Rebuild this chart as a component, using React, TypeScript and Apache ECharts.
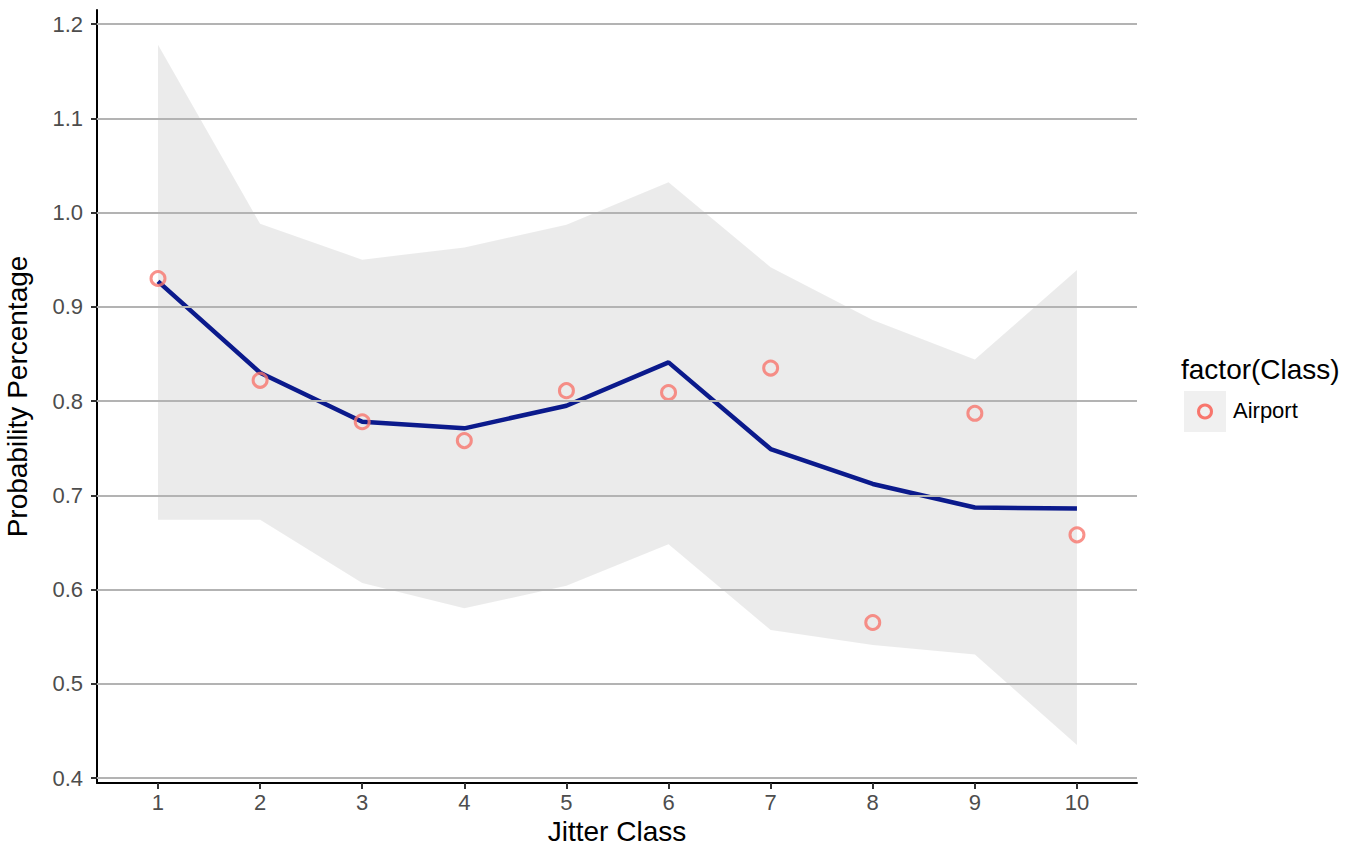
import React, { useEffect, useRef } from "react";
import * as echarts from "echarts";

const jitterClass = [1, 2, 3, 4, 5, 6, 7, 8, 9, 10];
const observed = [0.930, 0.822, 0.778, 0.758, 0.811, 0.809, 0.835, 0.565, 0.787, 0.658];
const fitted = [0.927, 0.830, 0.778, 0.771, 0.795, 0.841, 0.749, 0.712, 0.687, 0.686];
const upper = [1.178, 0.988, 0.950, 0.963, 0.987, 1.032, 0.942, 0.886, 0.844, 0.939];
const lower = [0.674, 0.674, 0.607, 0.580, 0.604, 0.648, 0.557, 0.541, 0.531, 0.435];
const yTicks = [0.4, 0.5, 0.6, 0.7, 0.8, 0.9, 1.0, 1.1, 1.2];
const xTicks = [1, 2, 3, 4, 5, 6, 7, 8, 9, 10];

const FONT = "'Liberation Sans', Arial, Helvetica, sans-serif";

export default function App() {
  const ref = useRef<HTMLDivElement>(null);
  useEffect(() => {
    if (!ref.current) return;
    document.body.style.margin = "0";
    const chart = echarts.init(ref.current, undefined, { renderer: "svg" });
    const ribbonData = jitterClass.map((x, i) => [x, lower[i], upper[i]]);
    chart.setOption({
      animation: false,
      backgroundColor: "#ffffff",
      grid: { left: 97, right: 226, top: 10, bottom: 72, outerBoundsMode: "none", containLabel: false },
      xAxis: {
        type: "value",
        min: 0.4026,
        max: 10.588,
        name: "Jitter Class",
        nameLocation: "middle",
        nameGap: 32,
        nameTextStyle: { color: "#000", fontSize: 28, fontFamily: FONT },
        axisLine: { show: true, onZero: false, lineStyle: { color: "#000", width: 2 } },
        axisTick: { show: true, length: 6, customValues: xTicks, lineStyle: { color: "#333", width: 2 } },
        axisLabel: { customValues: xTicks, color: "#4d4d4d", fontSize: 22, fontFamily: FONT, margin: 8 },
        splitLine: { show: false },
      },
      yAxis: {
        type: "value",
        min: 0.3947,
        max: 1.2149,
        name: "Probability Percentage",
        nameLocation: "middle",
        nameGap: 66,
        nameRotate: 90,
        nameTextStyle: { color: "#000", fontSize: 28, fontFamily: FONT },
        axisLine: { show: true, onZero: false, lineStyle: { color: "#000", width: 2 } },
        axisTick: { show: true, length: 6, customValues: yTicks, lineStyle: { color: "#333", width: 2 } },
        axisLabel: {
          customValues: yTicks,
          color: "#4d4d4d",
          fontSize: 22,
          fontFamily: FONT,
          margin: 14,
          formatter: (v: number) => v.toFixed(1),
        },
        splitLine: { show: false },
      },
      series: [
        {
          type: "line",
          data: [],
          silent: true,
          markLine: {
            silent: true,
            symbol: ["none", "none"],
            label: { show: false },
            lineStyle: { color: "#b3b3b3", width: 2, type: "solid" },
            data: yTicks.map((v) => ({ yAxis: v })),
          },
          z: 1,
        },
        {
          type: "custom",
          data: ribbonData,
          z: 2,
          renderItem: (params: any, api: any) => {
            if (params.dataIndex !== 0) return null;
            const top = ribbonData.map((d) => api.coord([d[0], d[2]]));
            const bot = ribbonData.map((d) => api.coord([d[0], d[1]])).reverse();
            return {
              type: "polygon",
              shape: { points: top.concat(bot) },
              style: { fill: "rgba(0,0,0,0.08)", stroke: "none" },
            };
          },
          encode: { x: 0, y: [1, 2] },
        },
        {
          type: "line",
          data: jitterClass.map((x, i) => [x, fitted[i]]),
          showSymbol: false,
          symbol: "none",
          lineStyle: { color: "#0b1a8c", width: 4.5 },
          z: 3,
        },
        {
          type: "scatter",
          data: jitterClass.map((x, i) => [x, observed[i]]),
          symbol: "circle",
          symbolSize: 14,
          itemStyle: { color: "rgba(0,0,0,0)", borderColor: "#f8766d", borderWidth: 3 },
          z: 4,
        },
      ],
      graphic: [
        {
          type: "text",
          left: 1181,
          top: 355,
          style: { text: "factor(Class)", fill: "#000", fontSize: 28, fontFamily: FONT },
        },
        {
          type: "rect",
          shape: { x: 1184, y: 391, width: 42, height: 41 },
          style: { fill: "#f0f0f0" },
        },
        {
          type: "circle",
          shape: { cx: 1205, cy: 411.5, r: 6.5 },
          style: { fill: "none", stroke: "#f8766d", lineWidth: 3 },
        },
        {
          type: "text",
          left: 1233,
          top: 399,
          style: { text: "Airport", fill: "#000", fontSize: 22, fontFamily: FONT },
        },
      ],
    });
    return () => chart.dispose();
  }, []);
  return <div ref={ref} style={{ width: 1363, height: 855 }} />;
}
